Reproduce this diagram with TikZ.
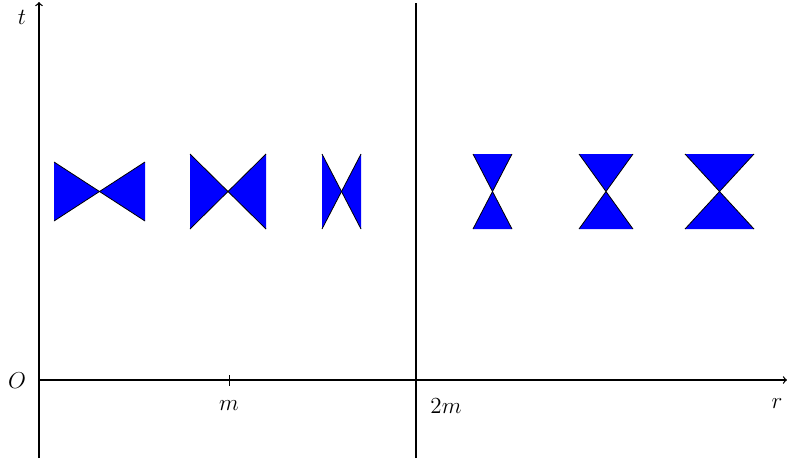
\documentclass[tikz,border=0pt]{standalone}
\begin{document}
\begin{tikzpicture}[x=0.625pt,y=-0.625pt,
  axis/.style={line width=0.8pt},
  cone/.style={fill=blue},
  coneedge/.style={line width=0.5pt},
  lbl/.style={inner sep=0pt,font=\fontsize{13.7pt}{16pt}\selectfont}]
\useasboundingbox (0,0) rectangle (787,461);
% axes
\coordinate (tbot) at (39,458);
\coordinate (ttop) at (39,2);
\coordinate (rl) at (39,380);
\coordinate (rr) at (787,380);
\coordinate (hb) at (416,458);
\coordinate (ht) at (416,3);
\coordinate (mt) at (229,375);
\coordinate (mb) at (229,386);
\draw[axis,->] (tbot) -- (ttop);
\draw[axis,->] (rl) -- (rr);
\draw[axis] (hb) -- (ht);
\draw[line width=0.5pt] (mt) -- (mb);
% labels
\node[lbl] (lt) at (22,17) {$t$};
\node[lbl] (lo) at (17,381) {$O$};
\node[lbl] (lm) at (229,406) {$m$};
\node[lbl] (l2m) at (446,406) {$2m$};
\node[lbl] (lr) at (777,404) {$r$};
% bowties (horizontal)
\foreach \cx/\cy/\hw/\hh in {99.5/191.5/45.5/29.5, 228/191.5/38/37.5, 341.5/191.5/19.5/37.5}{
  \fill[cone] (\cx-\hw,\cy-\hh) -- (\cx-\hw,\cy+\hh) -- (\cx,\cy) -- cycle;
  \fill[cone] (\cx+\hw,\cy-\hh) -- (\cx+\hw,\cy+\hh) -- (\cx,\cy) -- cycle;
  \draw[coneedge] (\cx-\hw,\cy-\hh) -- (\cx+\hw,\cy+\hh);
  \draw[coneedge] (\cx-\hw,\cy+\hh) -- (\cx+\hw,\cy-\hh);
}
% hourglasses (vertical)
\foreach \cx/\cy/\hw/\hh in {492.5/191.5/19.5/37.5, 606/191.5/27/37.5, 719.5/191.5/34.5/37.5}{
  \fill[cone] (\cx-\hw,\cy-\hh) -- (\cx+\hw,\cy-\hh) -- (\cx,\cy) -- cycle;
  \fill[cone] (\cx-\hw,\cy+\hh) -- (\cx+\hw,\cy+\hh) -- (\cx,\cy) -- cycle;
  \draw[coneedge] (\cx-\hw,\cy-\hh) -- (\cx+\hw,\cy+\hh);
  \draw[coneedge] (\cx-\hw,\cy+\hh) -- (\cx+\hw,\cy-\hh);
}
\end{tikzpicture}
\end{document}
